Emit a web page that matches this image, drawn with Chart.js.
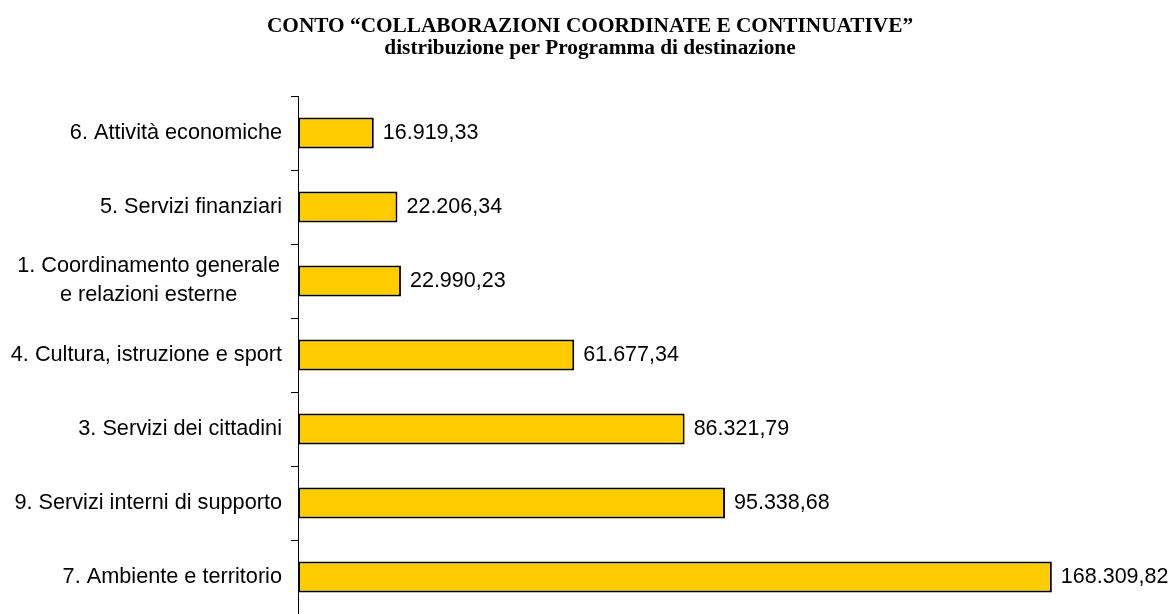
<!DOCTYPE html>
<html>
<head>
<meta charset="utf-8">
<script src="https://cdn.jsdelivr.net/npm/chart.js@4"></script>
<style>
  html, body { margin: 0; padding: 0; background: #fff; }
  #programmiChart { display: block; }
</style>
</head>
<body>
<canvas id="programmiChart" width="1168" height="614"></canvas>
<script>
// Programmi di destinazione (dall'alto verso il basso)
const programmi = [
  "6. Attività economiche",
  "5. Servizi finanziari",
  ["1. Coordinamento generale", "e relazioni esterne"],
  "4. Cultura, istruzione e sport",
  "3. Servizi dei cittadini",
  "9. Servizi interni di supporto",
  "7. Ambiente e territorio",
];
// Importi in euro
const importi = [16919.33, 22206.34, 22990.23, 61677.34, 86321.79, 95338.68, 168309.82];
const titolo = [
  "CONTO \u201CCOLLABORAZIONI COORDINATE E CONTINUATIVE\u201D",
  "distribuzione per Programma di destinazione",
];

const fontTesto = "'Liberation Sans', Arial, sans-serif";
const fontTitolo = "'Liberation Serif', 'Times New Roman', serif";

// formato italiano: 168.309,82
function formatoEuro(v) {
  const parti = v.toFixed(2).split(".");
  parti[0] = parti[0].replace(/\B(?=(\d{3})+(?!\d))/g, ".");
  return parti.join(",");
}

// titolo, etichette delle categorie (centrate riga per riga) e valori a destra delle barre
const etichettePlugin = {
  id: "etichette",
  afterDatasetsDraw(chart) {
    const ctx = chart.ctx;
    const yScale = chart.scales.y;
    const meta = chart.getDatasetMeta(0);
    ctx.save();
    ctx.fillStyle = "#000";

    ctx.font = "bold 21.3px " + fontTitolo;
    ctx.textAlign = "center";
    ctx.textBaseline = "alphabetic";
    ctx.fillText(titolo[0], 590, 32);
    ctx.fillText(titolo[1], 590, 54);

    ctx.font = "21.7px " + fontTesto;
    ctx.textBaseline = "middle";
    programmi.forEach((lab, i) => {
      const y = yScale.getPixelForValue(i);
      const righe = Array.isArray(lab) ? lab : [lab];
      const maxW = Math.max(...righe.map((r) => ctx.measureText(r).width));
      const destra = righe.length > 1 ? 280 : 282;
      const centro = destra - maxW / 2;
      righe.forEach((r, k) => {
        const yy = y + (k - (righe.length - 1) / 2) * 29;
        ctx.fillText(r, centro, yy);
      });
    });

    ctx.font = "21.5px " + fontTesto;
    ctx.textAlign = "left";
    meta.data.forEach((bar, i) => {
      ctx.fillText(formatoEuro(importi[i]), bar.x + 9, bar.y);
    });
    ctx.restore();
  },
};

try {
  const ctxProg = document.getElementById("programmiChart");
  new Chart(ctxProg, {
    type: "bar",
    data: {
      labels: programmi,
      datasets: [
        {
          data: importi,
          backgroundColor: "#FFCC00",
          borderColor: "#000",
          borderWidth: 2,
          borderSkipped: false,
          barPercentage: 0.84,
          categoryPercentage: 0.5,
        },
      ],
    },
    options: {
      indexAxis: "y",
      responsive: false,
      animation: false,
      layout: { padding: { top: 96, right: 19, bottom: 0, left: 0 } },
      plugins: {
        legend: { display: false },
        tooltip: { enabled: false },
        title: { display: false },
      },
      scales: {
        x: {
          display: false,
          min: 0,
          max: 190000,
        },
        y: {
          ticks: { display: false },
          grid: {
            offset: true,
            drawOnChartArea: false,
            drawTicks: true,
            tickLength: 7,
            color: "#000",
            lineWidth: 1,
          },
          border: { display: true, color: "#000", width: 1 },
          afterFit(scale) {
            scale.width = 298;
          },
        },
      },
    },
    plugins: [etichettePlugin],
  });
} catch (error) {
  console.error("Errore grafico programmi:", error);
}
</script>
</body>
</html>
